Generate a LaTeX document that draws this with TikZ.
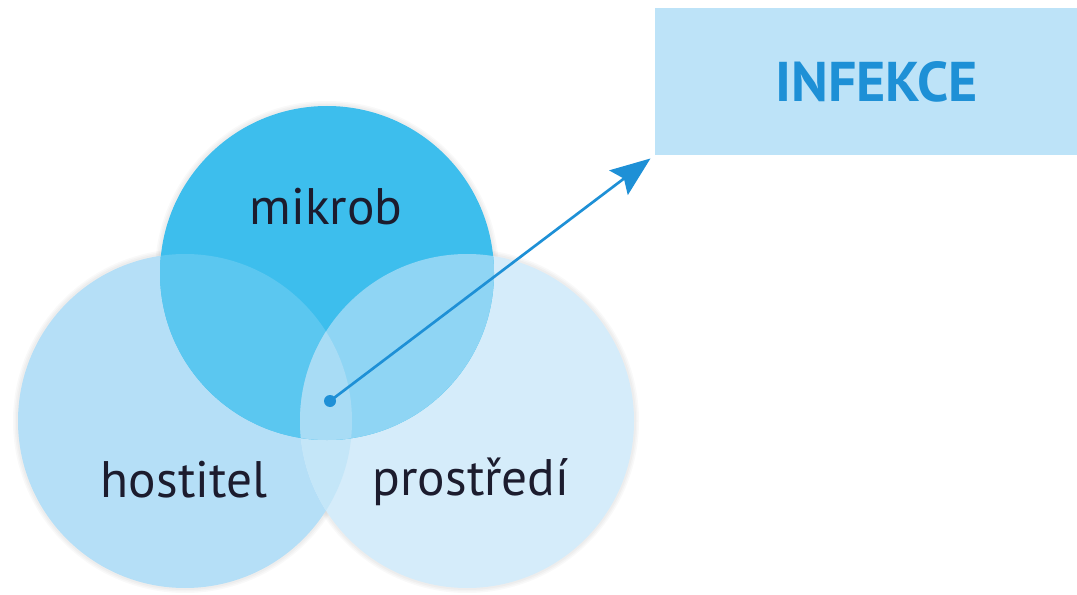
\documentclass[tikz,border=0pt]{standalone}
\usepackage{fontspec}
\setmainfont{PT Sans}
\usetikzlibrary{arrows.meta,positioning}
\definecolor{colM}{RGB}{61,190,237}
\definecolor{colH}{RGB}{181,223,247}
\definecolor{colP}{RGB}{213,236,250}
\definecolor{colMH}{RGB}{91,199,240}
\definecolor{colMP}{RGB}{143,213,244}
\definecolor{colHP}{RGB}{196,230,248}
\definecolor{colMHP}{RGB}{168,220,245}
\definecolor{boxfill}{RGB}{189,227,248}
\definecolor{arrowblue}{RGB}{30,144,214}
\definecolor{labeltext}{RGB}{28,28,46}
\begin{document}
\begin{tikzpicture}[x=0.75pt,y=0.75pt,yscale=-1,xscale=1,
  lbl/.style={inner sep=0.75pt,text=labeltext,font=\fontsize{38.5}{42}\selectfont},
  resultbox/.style={fill=boxfill,minimum width=316.5pt,minimum height=110.25pt,inner sep=0pt,
    text=arrowblue,font=\fontsize{42}{46}\selectfont\bfseries},
  pointer/.style={draw=arrowblue,line width=2pt,-{Stealth[length=30pt,width=23pt,inset=5pt]}}]
\useasboundingbox (0,0) rectangle (1077,595);
\coordinate (M) at (327,273);
\coordinate (H) at (185,421);
\coordinate (P) at (467,421);
% soft shadow round the circles
\foreach \c in {M,H,P}{
  \foreach \r in {172,170.5,169}
    \fill [black,opacity=0.025] (\c) circle (\r);
}
\fill [colH] (H) circle (167);
\fill [colP] (P) circle (167);
\begin{scope}
  \clip (H) circle (167);
  \fill [colHP] (P) circle (167);
\end{scope}
\fill [colM] (M) circle (167);
\begin{scope}
  \clip (M) circle (167);
  \fill [colMH] (H) circle (167);
  \fill [colMP] (P) circle (167);
  \clip (H) circle (167);
  \fill [colMHP] (P) circle (167);
\end{scope}
\node [lbl] (mikrob) at (326,207) {mikrob};
\node [lbl] (hostitel) at (184,480) {hostitel};
\node [lbl] (prostredi) at (471,482) {prostředí};
\node [resultbox] (infekce) at (866,81.5) {\hspace*{16pt}INFEKCE};
\coordinate (dot) at (330,401);
\fill [arrowblue] (dot) circle (6);
\draw [pointer,shorten >=4pt] (dot) -- (infekce.south west);
\end{tikzpicture}
\end{document}
